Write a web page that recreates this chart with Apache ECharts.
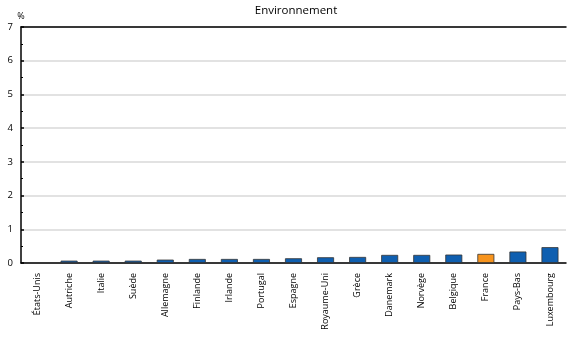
<!DOCTYPE html>
<html><head><meta charset="utf-8">
<script src="https://cdn.jsdelivr.net/npm/echarts@6/dist/echarts.min.js"></script>
<style>html,body{margin:0;padding:0;background:#fff}#c{width:568px;height:342px}</style>
</head><body><div id="c"></div>
<script>
const categories = ["États-Unis","Autriche","Italie","Suède","Allemagne","Finlande","Irlande","Portugal","Espagne","Royaume-Uni","Grèce","Danemark","Norvège","Belgique","France","Pays-Bas","Luxembourg"];
const values = [null,0.07,0.07,0.07,0.1,0.12,0.12,0.12,0.14,0.17,0.18,0.24,0.24,0.25,0.27,0.34,0.47];
const highlight = "France";
const yTicks = [0,1,2,3,4,5,6,7];
const title = "Environnement";
const unit = "%";

const FONT = "Open Sans";
const chart = echarts.init(document.getElementById('c'), null, {renderer:'canvas'});
chart.setOption({
  animation:false,
  title:{text:title,left:291,top:0,textAlign:'center',textStyle:{fontFamily:FONT,fontSize:11.5,fontWeight:'normal',color:'#000'}},
  grid:{left:21,right:2,top:27,bottom:79,containLabel:false},
  xAxis:[{
    type:'category',data:categories,
    axisLine:{lineStyle:{color:'#000',width:1.5}},
    axisTick:{show:false},
    axisLabel:{rotate:90,interval:0,fontFamily:FONT,fontSize:9,color:'#000',margin:10}
  },{
    type:'category',position:'top',data:categories,
    axisLine:{show:true,lineStyle:{color:'#000',width:1.5}},
    axisTick:{show:false},axisLabel:{show:false}
  }],
  yAxis:{
    type:'value',min:yTicks[0],max:yTicks[yTicks.length-1],interval:1,
    name:unit,nameLocation:'end',nameGap:6,
    nameTextStyle:{fontFamily:FONT,fontSize:9,color:'#000',align:'center',padding:[0,0,0,0]},
    axisLine:{show:true,lineStyle:{color:'#000',width:1.5}},
    axisTick:{show:true,inside:true,length:3,lineStyle:{color:'#000',width:1.5}},
    minorTick:{show:true,splitNumber:2,length:2,lineStyle:{color:'#000'}},
    axisLabel:{fontFamily:FONT,fontSize:9.5,color:'#000',margin:8},
    splitLine:{lineStyle:{color:'#d9d9d9',width:1.5}}
  },
  series:[{
    type:'bar',barWidth:'53%',
    data:values.map((v,i)=>({value:v,itemStyle:{color:categories[i]===highlight?'#F7941E':'#0F5FB0'}})),
    itemStyle:{borderColor:'#333',borderWidth:0.8}
  }]
});
</script></body></html>
